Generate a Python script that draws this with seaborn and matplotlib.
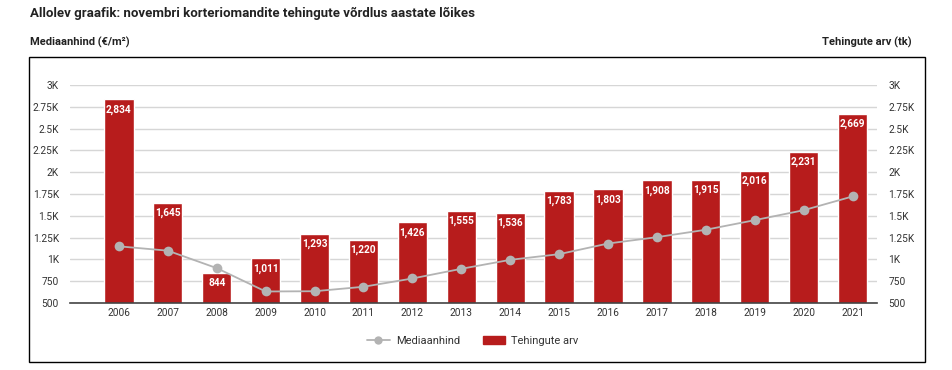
import numpy as np
import pandas as pd
import seaborn as sns
import matplotlib.pyplot as plt
from matplotlib.patches import Rectangle
from matplotlib.lines import Line2D
from matplotlib.ticker import FixedLocator

years = [str(y) for y in range(2006, 2022)]
tehingute_arv = [2834, 1645, 844, 1011, 1293, 1220, 1426, 1555, 1536, 1783, 1803, 1908, 1915, 2016, 2231, 2669]
mediaanhind = [1150, 1100, 900, 632, 635, 686, 781, 892, 995, 1060, 1182, 1255, 1340, 1450, 1564, 1722]
tick_values = [500, 750, 1000, 1250, 1500, 1750, 2000, 2250, 2500, 2750, 3000]
tick_labels = ['500', '750', '1K', '1.25K', '1.5K', '1.75K', '2K', '2.25K', '2.5K', '2.75K', '3K']

df = pd.DataFrame({'Aasta': years, 'Tehingute arv': tehingute_arv, 'Mediaanhind': mediaanhind})
df['pos'] = np.arange(len(df))

sns.set_style('white')
plt.rcParams['font.family'] = ['Roboto', 'DejaVu Sans']

bar_color = '#b71c1c'
line_color = '#b3b3b3'
text_color = '#333333'

fig = plt.figure(figsize=(9.52, 3.7), dpi=100)
ax = fig.add_axes([70 / 952, 1 - 303 / 370, 807 / 952, 218 / 370])

sns.barplot(data=df, x='Aasta', y='Tehingute arv', color=bar_color, width=0.6,
            saturation=1, ax=ax, zorder=2)
sns.lineplot(data=df, x='pos', y='Mediaanhind', color=line_color, marker='o',
             markersize=7, markeredgewidth=0, linewidth=1.3, ax=ax, zorder=3)

for c in ax.containers:
    ax.bar_label(c, labels=[f'{v:,}' for v in tehingute_arv], padding=-11,
                 color='white', fontsize=7.3, fontweight='semibold', zorder=4)

ax.set_xlim(-1.0, 15.5)
ax.set_ylim(500, 3000)
ax.yaxis.set_major_locator(FixedLocator(tick_values))
ax.set_yticklabels(tick_labels)
ax.grid(axis='y', color='#d6d6d6', linewidth=1, zorder=0)
ax.set_axisbelow(True)
for s in ['top', 'right', 'left']:
    ax.spines[s].set_visible(False)
ax.spines['bottom'].set_color('#444444')
ax.spines['bottom'].set_linewidth(1.2)
ax.tick_params(axis='both', length=0, labelsize=7.3, colors=text_color)
ax.tick_params(axis='y', pad=8)
ax.set_xlabel('')
ax.set_ylabel('')

ax2 = ax.twinx()
ax2.set_ylim(500, 3000)
ax2.yaxis.set_major_locator(FixedLocator(tick_values))
ax2.set_yticklabels(tick_labels)
ax2.tick_params(axis='y', length=0, labelsize=7.3, colors=text_color, pad=8)
for s in ax2.spines.values():
    s.set_visible(False)

fig.text(30 / 952, 1 - 13 / 370, 'Allolev graafik: novembri korteriomandite tehingute võrdlus aastate lõikes',
         fontsize=9.5, fontweight='bold', va='center', ha='left', color='#222222')
fig.text(30 / 952, 1 - 42 / 370, 'Mediaanhind (€/m²)', fontsize=8, fontweight='bold',
         va='center', ha='left', color='#222222')
fig.text(912 / 952, 1 - 42 / 370, 'Tehingute arv (tk)', fontsize=8, fontweight='bold',
         va='center', ha='right', color='#222222')

fig.patches.append(Rectangle((29 / 952, 1 - 362 / 370), 896 / 952, 305 / 370,
                             transform=fig.transFigure, fill=False, edgecolor='black',
                             linewidth=1))

handles = [Line2D([0], [0], color=line_color, marker='o', markersize=6, markeredgewidth=0, linewidth=1.3),
           Rectangle((0, 0), 1, 1, color=bar_color)]
fig.legend(handles, ['Mediaanhind', 'Tehingute arv'], loc='center', bbox_to_anchor=(473 / 952, 1 - 341 / 370),
           ncol=2, frameon=False, fontsize=8, handlelength=2.0, columnspacing=2.0, handletextpad=0.6,
           labelcolor=text_color)

fig.savefig('out.png', dpi=100)
